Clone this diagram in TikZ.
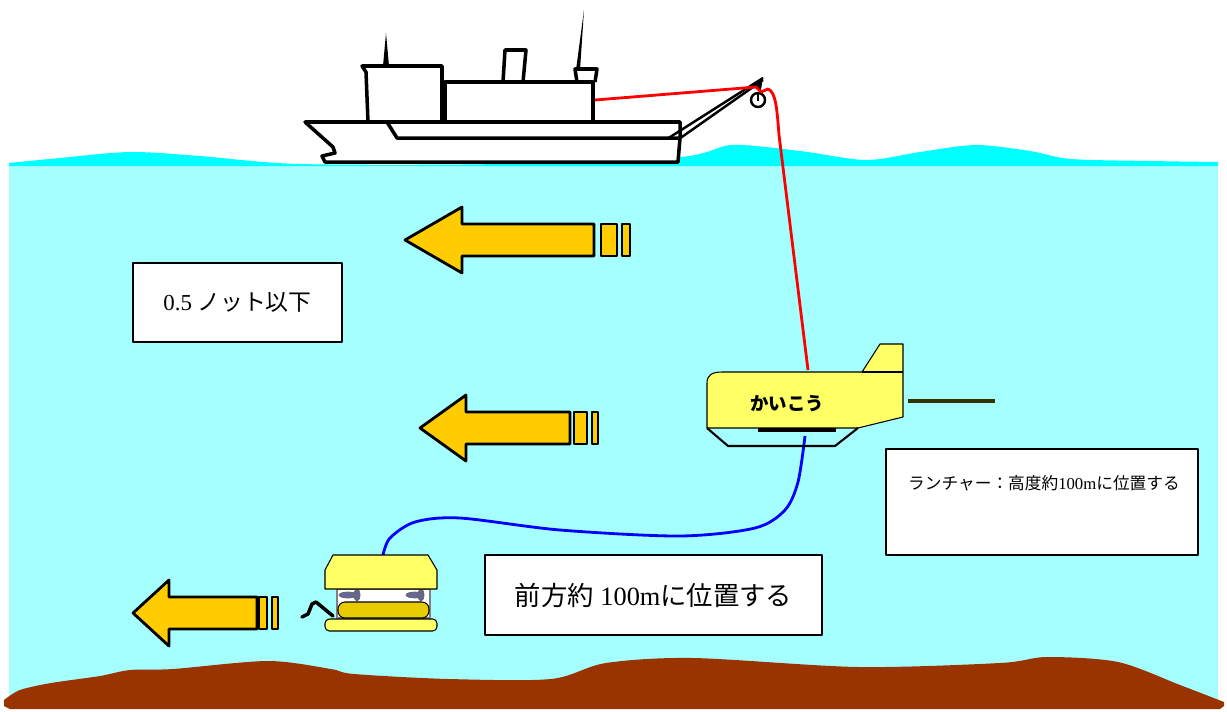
\documentclass[tikz,border=0pt]{standalone}
\usepackage{fontspec}
\setmainfont{Liberation Serif}
\newfontfamily\cjk{Noto Sans CJK JP}
\usepackage{tikz}
\definecolor{sea}{RGB}{166,255,255}
\definecolor{wave}{RGB}{0,255,255}
\definecolor{arrowfill}{RGB}{255,204,0}
\definecolor{bodyfill}{RGB}{255,255,102}
\definecolor{floatfill}{RGB}{230,204,0}
\definecolor{mud}{RGB}{153,51,0}
\definecolor{towbar}{RGB}{51,51,0}
\definecolor{thruster}{RGB}{102,102,153}

\begin{document}
\begin{tikzpicture}[x = 0.02cm, y = -0.02cm, line join = round,
  hull/.style = {line width = 2pt, fill = white},
  shipline/.style = {line width = 2pt},
  flow/.style = {line width = 1.6pt, fill = arrowfill},
  textbox/.style = {draw, line width = 1pt, fill = white, inner sep = 0},
  yellowpart/.style = {draw, line width = .6pt, fill = bodyfill}]
 \useasboundingbox (0, 0) rectangle (1227, 711);
  \fill [sea] (9, 165) rectangle (1218, 706);
  \fill [wave] plot [smooth] coordinates {(9, 163) (60, 158) (130, 152) (200, 156) (300, 164) (500, 164) (680, 157) (732, 145) (800, 151) (866, 160) (920, 152) (976, 145) (1030, 151) (1071, 159) (1150, 161) (1218, 162)} -- (1218, 166) -- (9, 166) -- cycle;
  \fill [mud] plot [smooth] coordinates {(4, 700) (20, 690) (51, 683) (100, 676) (130, 670) (173, 669) (268, 661) (331, 669) (354, 674) (449, 679) (551, 679) (606, 663) (693, 658) (858, 667) (1000, 663) (1047, 657) (1118, 662) (1180, 685) (1224, 702)} -- (1224, 706) -- (1220, 709) -- (10, 709) -- (4, 706) -- cycle;

  \fill (383, 66) -- (386, 33) -- (389, 66) -- cycle;
  \fill (576, 70) -- (584, 10) -- (580, 70) -- cycle;
  \draw [hull] (503, 82) -- (505, 50) -- (526, 50) -- (523, 82);
  \draw [hull] (577, 82) -- (575, 69) -- (597, 69) -- (595, 82);
  \draw [hull] (368, 122) -- (366, 72) -- (362, 66) -- (442, 66) -- (442, 122);
  \draw [hull] (445, 122) -- (445, 82) -- (593, 82) -- (593, 122);
  \draw [hull] (305, 122) -- (333, 147) -- (335, 153) -- (322, 156) -- (325, 162) -- (678, 162) -- (680, 138) -- (680, 122) -- cycle;
  \draw [shipline] (387, 122) -- (397, 138) -- (680, 138);
  \draw [line width = 1.4pt] (667, 139) -- (763, 78);
  \draw [line width = 1.4pt] (679, 139) -- (763, 80);
  \fill (751, 86) -- (763, 77) -- (761, 90) -- cycle;
  \draw [line width = 1.4pt, fill = white] (758, 100) circle [radius = 7];
  \fill (757, 94) rectangle (759, 101);

  \coordinate (sheave) at (756, 87);
  \coordinate (launchertop) at (808, 370);
  \coordinate (launcherbottom) at (805, 436);
  \coordinate (rovtop) at (383, 555);
  \draw [red, line width = 1.6pt] (595, 100) -- (sheave) -- (761, 92) -- (768, 89) .. controls (776, 92) and (777, 110) .. (779, 135) -- (launchertop);
  \draw [blue, line width = 1.6pt] plot [smooth] coordinates {(launcherbottom) (798, 482) (785, 510) (755, 528) (680, 536) (560, 530) (460, 518) (415, 522) (390, 538) (rovtop)};

  \foreach \tx/\ty/\hx/\ex/\ba/\bb/\bc/\bd in {405/240/462/594/601/617/622/630, 420/428/466/570/574/587/592/598, 133/613/169/257/259/267/272/278} {
    \draw [flow] (\tx, \ty) -- (\hx, \ty - 33) -- (\hx, \ty - 16) -- (\ex, \ty - 16) -- (\ex, \ty + 16) -- (\hx, \ty + 16) -- (\hx, \ty + 33) -- cycle;
    \draw [flow] (\ba, \ty - 16) rectangle (\bb, \ty + 16);
    \draw [flow] (\bc, \ty - 16) rectangle (\bd, \ty + 16);
  }

  \draw [yellowpart] (707, 428) -- (707, 383) .. controls (707, 375) and (712, 372) .. (722, 372) -- (862, 372) -- (880, 344) -- (903, 344) -- (903, 417) -- (858, 428) -- cycle;
  \draw [line width = .6pt] (862, 372) -- (903, 372);
  \draw [line width = 1.2pt] (707, 428) -- (728, 446) -- (835, 446) -- (858, 428);
  \fill (758, 428) rectangle (836, 432);
  \draw [towbar, line width = 1.8pt] (908, 401) -- (995, 401);
  \node [font = \cjk\bfseries\fontsize{10.5}{12}\selectfont] (kaiko) at (787, 404) {かいこう};

  \draw [line width = .6pt, draw = gray, fill = white] (337, 589) rectangle (430, 618);
  \filldraw [fill = thruster, draw = black!60, line width = .4pt] (348, 595) ellipse [x radius = 9, y radius = 3] (357, 595) ellipse [x radius = 3, y radius = 6];
  \filldraw [fill = thruster, draw = black!60, line width = .4pt] (415, 595) ellipse [x radius = 9, y radius = 3] (421, 595) ellipse [x radius = 3, y radius = 6];
  \draw [yellowpart] (325, 589) -- (325, 570) -- (333, 555) -- (428, 555) -- (437, 570) -- (437, 589) -- cycle;
  \draw [line width = .6pt, fill = floatfill, rounded corners = 4pt] (338, 602) rectangle (429, 618);
  \draw [yellowpart, rounded corners = 2.5pt] (325, 619) rectangle (437, 631);
  \draw [line width = 2pt, line cap = round] (333, 616) -- (316, 602) -- (312, 604) -- (308, 614) -- (302, 617);

  \node [textbox, minimum width = 4.18cm, minimum height = 1.58cm, font = \fontsize{13}{15}\selectfont] (speed) at (237.5, 302.5) {0.5 {\cjk ノット以下}};
  \node [textbox, minimum width = 6.24cm, minimum height = 2.12cm] (launcherbox) at (1042, 502) {};
  \node [font = \fontsize{9.5}{11}\selectfont] (launchertext) at (1044, 483) {{\cjk ランチャー：高度約}100m{\cjk に位置する}};
  \node [textbox, minimum width = 6.74cm, minimum height = 1.6cm, font = \fontsize{15}{18}\selectfont] (rovbox) at (653.5, 595) {{\cjk 前方約} 100m{\cjk に位置する}};
 \end{tikzpicture}
\end{document}
